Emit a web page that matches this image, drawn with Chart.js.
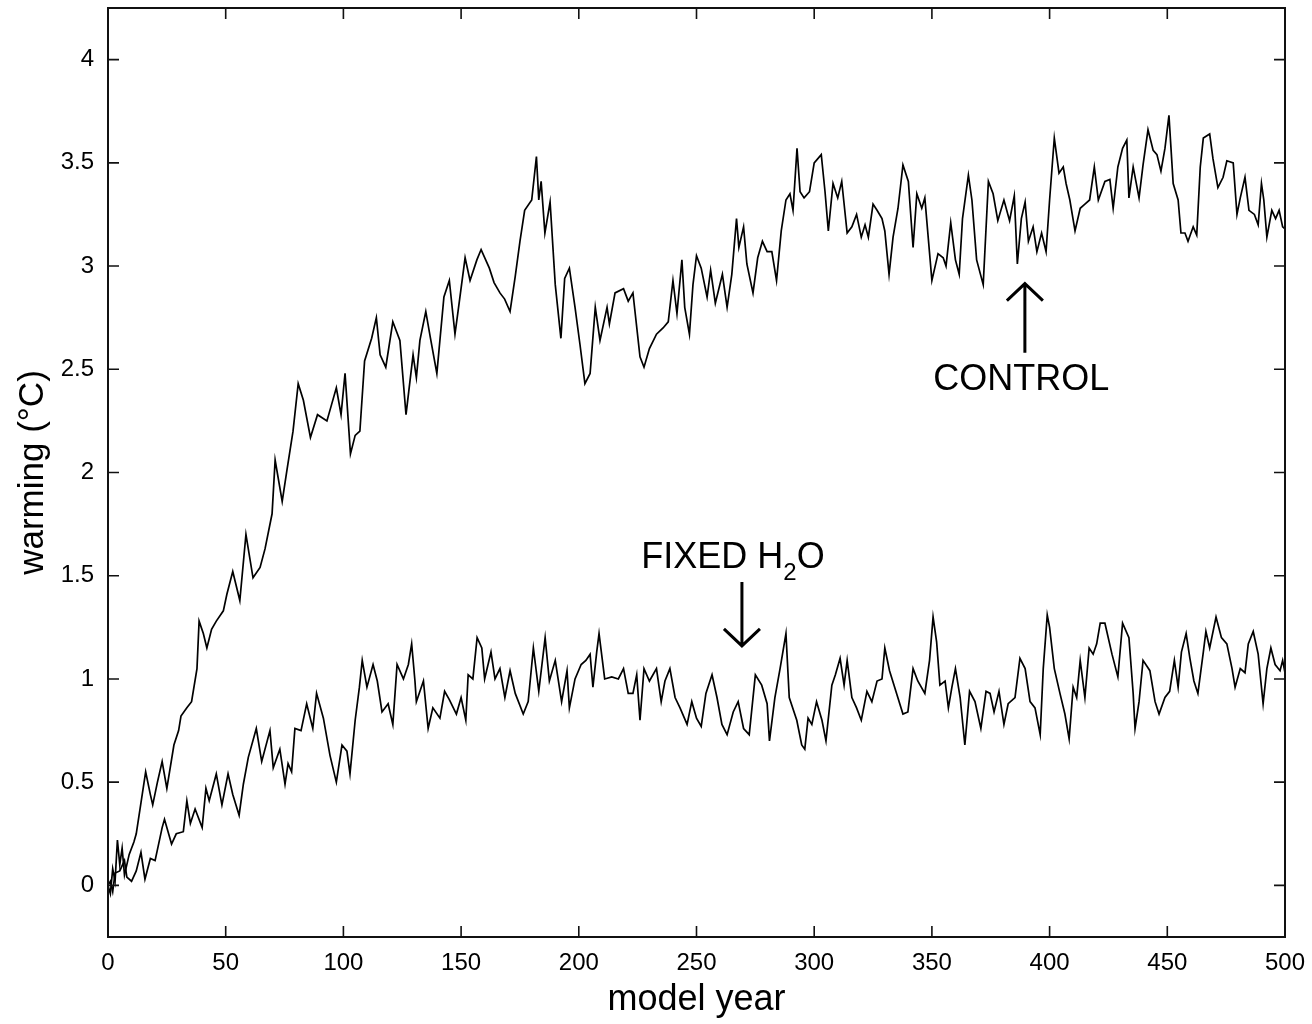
<!DOCTYPE html>
<html>
<head>
<meta charset="utf-8">
<script src="https://cdn.jsdelivr.net/npm/chart.js@4.4.1/dist/chart.umd.min.js"></script>
<style>
  html, body { margin: 0; padding: 0; background: #fff; }
  #wrap { width: 1312px; height: 1024px; }
</style>
</head>
<body>
<div id="wrap"><canvas id="chart" width="1312" height="1024"></canvas></div>
<script>
// values (model year, warming in deg C)
const controlYears = [0,1,2,3,4,5,6,7,9,11,12,14,16,18,19,21,23,25,28,30,31,33.5,35.5,37.8,38.7,40.5,42,44,46,49,50.5,53,56,58.6,61.6,64.6,66.7,69.7,71,74,76,78.6,80.8,83,86,89,93,95,97,99,100.7,103,105,107,109,112,114,115.6,118,121,124,126.6,129.6,131,132.5,135,137,139.7,142.7,145,147.4,148.7,151.7,153.8,156.7,158.5,162,164,166.5,168.5,170.8,173,175,177,180,182,183,184,185.6,187.8,190,192.4,194,196,198.4,200.5,202.6,204.8,207,209,212,213,215.4,219,221,223,226,227.7,230,233,235.8,238,240,241.7,243.8,245,247,248.5,250,252,254.5,256,258,261,263,265,267,268,270,271.4,274,276,278,280,282,284,286,288,289.7,291,292.7,294,295.7,298,300,303,304.6,306,308,310,311.7,314,316,318,320,321.6,323,325,326.7,328.8,330,331.8,333.5,335.6,337.7,340,342,343.6,345.7,347,350,352.6,354.8,356,358,360,361.6,363,365.5,367,369,371.8,374,376,378,380.6,383,385,386.3,388,389.6,391,393,394.6,396.6,398.5,400,402,404,405.8,407,408.6,410.8,413,415,417,419,420.7,423.5,425.6,427,429,431,432.8,433.7,435.5,438,439.7,441.8,444,445.6,447.3,449,450.7,452.5,454.6,455.8,457.5,458.8,461,462.5,464,465.3,468,469.4,471.5,473.7,475.3,478,479.6,481,483,484.7,487,488.6,490,491,492.3,494.4,496,497.5,499,500];
const controlWarming = [0,-0.04,0.08,0.02,0.22,0.10,0.18,0.05,0.15,0.21,0.25,0.40,0.55,0.44,0.39,0.50,0.60,0.47,0.68,0.75,0.82,0.86,0.89,1.05,1.28,1.22,1.15,1.24,1.28,1.33,1.41,1.52,1.38,1.70,1.49,1.54,1.63,1.80,2.06,1.86,2.01,2.20,2.43,2.35,2.17,2.28,2.25,2.33,2.41,2.28,2.48,2.09,2.18,2.20,2.54,2.65,2.75,2.57,2.51,2.73,2.64,2.28,2.57,2.46,2.64,2.78,2.65,2.48,2.85,2.93,2.67,2.78,3.04,2.93,3.03,3.08,2.99,2.92,2.87,2.84,2.78,2.95,3.12,3.27,3.32,3.53,3.32,3.41,3.16,3.31,2.91,2.65,2.94,2.99,2.80,2.62,2.43,2.48,2.80,2.64,2.80,2.72,2.87,2.89,2.83,2.87,2.56,2.51,2.60,2.67,2.70,2.73,2.93,2.77,3.03,2.80,2.67,2.91,3.05,2.99,2.85,2.98,2.82,2.96,2.80,2.96,3.23,3.09,3.19,3.01,2.87,3.04,3.12,3.07,3.07,2.93,3.17,3.32,3.35,3.27,3.57,3.36,3.33,3.36,3.50,3.54,3.36,3.17,3.40,3.33,3.41,3.16,3.19,3.25,3.14,3.20,3.14,3.30,3.27,3.23,3.17,2.96,3.14,3.28,3.49,3.41,3.09,3.35,3.28,3.33,2.93,3.06,3.04,3.00,3.21,3.03,2.96,3.23,3.44,3.32,3.03,2.91,3.41,3.35,3.22,3.32,3.22,3.34,3.01,3.23,3.31,3.12,3.19,3.07,3.16,3.07,3.32,3.62,3.45,3.48,3.40,3.32,3.17,3.28,3.30,3.32,3.48,3.32,3.41,3.42,3.28,3.48,3.57,3.61,3.33,3.48,3.33,3.49,3.66,3.56,3.54,3.46,3.57,3.73,3.40,3.32,3.16,3.16,3.12,3.19,3.15,3.48,3.62,3.64,3.52,3.38,3.43,3.51,3.50,3.25,3.33,3.43,3.27,3.25,3.20,3.40,3.32,3.14,3.27,3.23,3.27,3.19,3.18];

const fixedYears = [0,1,2,3,5,7,8,10,12,14,15.7,18,20,23,24,27,29,32,33.5,35,37,40,41.6,43,46,48.4,51,53,55.7,57.5,59.6,63,65.3,68.8,70.2,73,75.2,76.5,78,79.4,82,84.4,87,88.6,91.5,94.3,97,99.4,101.5,102.8,105,106.8,108,110,112.6,114.4,116.4,119,121,122.8,125.5,127.6,129,130.4,131,134,136,138,141,143,145,148,150,152,153,155,156.8,158.8,160,162.7,164.4,166.5,168.6,170.8,173,176.4,178.5,180.7,183,185.7,187.5,190,192.7,195,196,198.4,201,203,204.8,206,207.6,208.6,211,214,216.8,219,221,223,224.6,226,227.7,230,233,235,236.6,238.7,240.9,243,246,248,250,252,254,256.6,258.7,260.8,263,265.6,267.7,270,272.4,275,277.7,280,281,283.3,285.5,288,289.4,292.6,294.7,296,297.4,299,301,303.3,305,307.5,309,311,312.7,314,316,318,320,322.4,324.5,326.7,328.8,330,332,335,337.7,339.8,342,344,347,349,350.5,352,353.4,355.6,357,358.5,360,362,364,366,368.3,370.8,373,374.7,376.4,378.5,380.6,382.4,385.3,387.4,389.6,391.7,393.8,396,397.3,399,400,402,404.4,406.5,408.3,410,411.5,413,415,416.8,418.5,420,421.5,423.5,426.5,429,431,433.7,435.5,436.3,438,439.7,442.6,444.8,446.5,449,451,453,454.6,456,458,459.6,461.3,463,465.3,466.4,468,470.7,473,475.3,477.5,478.8,481,483,484.4,486.5,488.6,490.7,492.3,494,495.8,497.9,499,500];
const fixedWarming = [0,0.02,-0.03,0.06,0.07,0.12,0.04,0.02,0.07,0.16,0.03,0.13,0.12,0.28,0.32,0.20,0.25,0.26,0.41,0.30,0.37,0.28,0.47,0.41,0.54,0.39,0.54,0.44,0.34,0.49,0.62,0.76,0.60,0.75,0.57,0.66,0.49,0.59,0.55,0.76,0.75,0.88,0.76,0.93,0.81,0.63,0.50,0.68,0.65,0.54,0.80,0.96,1.09,0.96,1.07,0.99,0.84,0.88,0.78,1.07,1.00,1.07,1.17,0.99,0.89,0.99,0.76,0.86,0.81,0.94,0.90,0.83,0.91,0.80,1.02,1.00,1.20,1.15,1.00,1.13,1.00,1.05,0.91,1.04,0.93,0.83,0.89,1.15,0.94,1.20,0.99,1.09,0.89,1.04,0.86,1.00,1.07,1.09,1.12,0.96,1.13,1.22,1.00,1.01,1.00,1.05,0.93,0.93,1.02,0.80,1.05,0.99,1.05,0.89,0.99,1.05,0.91,0.86,0.78,0.89,0.81,0.77,0.93,1.02,0.91,0.78,0.73,0.84,0.89,0.76,0.73,1.02,0.97,0.88,0.70,0.91,1.05,1.22,0.91,0.80,0.68,0.66,0.81,0.78,0.89,0.80,0.70,0.97,1.02,1.10,0.97,1.09,0.91,0.86,0.80,0.94,0.89,0.99,1.00,1.15,1.04,0.93,0.83,0.84,1.05,0.99,0.93,1.09,1.30,1.18,0.97,0.99,0.86,0.96,1.05,0.91,0.68,0.94,0.89,0.76,0.94,0.93,0.84,0.94,0.78,0.88,0.91,1.10,1.05,0.89,0.86,0.73,1.05,1.31,1.25,1.05,0.93,0.83,0.71,0.96,0.91,1.09,0.91,1.15,1.12,1.17,1.27,1.27,1.12,1.01,1.27,1.20,0.93,0.76,0.89,1.09,1.04,0.89,0.83,0.91,0.94,1.09,0.96,1.13,1.22,1.10,0.99,0.93,1.13,1.23,1.15,1.30,1.20,1.17,1.05,0.96,1.05,1.03,1.17,1.23,1.12,0.88,1.05,1.15,1.07,1.04,1.09,1.03];

const xTicks = [0, 50, 100, 150, 200, 250, 300, 350, 400, 450, 500];
const yTicks = [0, 0.5, 1, 1.5, 2, 2.5, 3, 3.5, 4];
const yTickLabels = ['0', '0.5', '1', '1.5', '2', '2.5', '3', '3.5', '4'];

Chart.defaults.font.family = '"Liberation Sans", Arial, Helvetica, sans-serif';
Chart.defaults.color = '#000';

function toPoints(xs, ys) {
  return xs.map((x, i) => ({ x: x, y: ys[i] }));
}

// box, inward ticks on all four sides, and the two labels with arrows
const frameAndNotes = {
  id: 'frameAndNotes',
  afterDatasetsDraw(chart) {
    const ctx = chart.ctx;
    const a = chart.chartArea;
    const xs = chart.scales.x;
    const ys = chart.scales.y;
    ctx.save();
    ctx.strokeStyle = '#111';
    ctx.lineWidth = 2;
    ctx.strokeRect(a.left, a.top, a.right - a.left, a.bottom - a.top);

    ctx.lineWidth = 1.6;
    ctx.beginPath();
    xTicks.forEach(v => {
      const px = xs.getPixelForValue(v);
      ctx.moveTo(px, a.bottom); ctx.lineTo(px, a.bottom - 11);
      ctx.moveTo(px, a.top); ctx.lineTo(px, a.top + 11);
    });
    yTicks.forEach(v => {
      const py = ys.getPixelForValue(v);
      ctx.moveTo(a.left, py); ctx.lineTo(a.left + 11, py);
      ctx.moveTo(a.right, py); ctx.lineTo(a.right - 11, py);
    });
    ctx.stroke();

    ctx.fillStyle = '#000';
    ctx.textBaseline = 'middle';
    const big = '36px "Liberation Sans", Arial, sans-serif';
    const small = '24px "Liberation Sans", Arial, sans-serif';

    // CONTROL
    ctx.font = big;
    ctx.textAlign = 'center';
    ctx.fillText('CONTROL', xs.getPixelForValue(388), ys.getPixelForValue(2.45));
    drawArrow(ctx, xs.getPixelForValue(389.5), ys.getPixelForValue(2.58), ys.getPixelForValue(2.915));

    // FIXED H2O
    const cx = xs.getPixelForValue(265.5);
    const cy = ys.getPixelForValue(1.585);
    const w1 = ctx.measureText('FIXED H').width;
    const w3 = ctx.measureText('O').width;
    ctx.font = small;
    const w2 = ctx.measureText('2').width;
    const left = cx - (w1 + w2 + w3) / 2;
    ctx.textAlign = 'left';
    ctx.font = big;
    ctx.fillText('FIXED H', left, cy);
    ctx.font = small;
    ctx.fillText('2', left + w1, cy + 15);
    ctx.font = big;
    ctx.fillText('O', left + w1 + w2, cy);
    drawArrow(ctx, xs.getPixelForValue(269.3), ys.getPixelForValue(1.47), ys.getPixelForValue(1.16));
    ctx.restore();
  }
};

function drawArrow(ctx, x, yFrom, yTo) {
  const dir = yTo < yFrom ? 1 : -1;
  ctx.lineWidth = 3;
  ctx.strokeStyle = '#000';
  ctx.beginPath();
  ctx.moveTo(x, yFrom); ctx.lineTo(x, yTo);
  ctx.moveTo(x - 18, yTo + dir * 17); ctx.lineTo(x, yTo); ctx.lineTo(x + 18, yTo + dir * 17);
  ctx.stroke();
}

new Chart(document.getElementById('chart'), {
  type: 'line',
  data: {
    datasets: [
      {
        label: 'CONTROL',
        data: toPoints(controlYears, controlWarming),
        borderColor: '#000',
        borderWidth: 1.7,
        pointRadius: 0,
        tension: 0
      },
      {
        label: 'FIXED H2O',
        data: toPoints(fixedYears, fixedWarming),
        borderColor: '#000',
        borderWidth: 1.7,
        pointRadius: 0,
        tension: 0
      }
    ]
  },
  options: {
    responsive: false,
    devicePixelRatio: 1,
    animation: false,
    layout: { padding: { top: 8, right: 27, left: 0, bottom: 0 } },
    plugins: { legend: { display: false }, tooltip: { enabled: false } },
    scales: {
      x: {
        type: 'linear',
        min: 0,
        max: 500,
        afterBuildTicks: s => { s.ticks = xTicks.map(v => ({ value: v })); },
        afterFit: s => { s.height = 87; s.paddingLeft = 0; s.paddingRight = 0; },
        ticks: { font: { size: 24 }, color: '#000', padding: 12, maxRotation: 0, autoSkip: false },
        grid: { display: false, drawTicks: false },
        border: { display: false },
        title: { display: true, text: 'model year', font: { size: 36 }, color: '#000', padding: { top: 0, bottom: 2 } }
      },
      y: {
        type: 'linear',
        min: -0.25,
        max: 4.25,
        afterBuildTicks: s => { s.ticks = yTicks.map(v => ({ value: v })); },
        afterFit: s => { s.width = 108; s.paddingTop = 0; s.paddingBottom = 0; },
        ticks: {
          font: { size: 24 }, color: '#000', padding: 14, autoSkip: false,
          callback: v => yTickLabels[yTicks.indexOf(v)]
        },
        grid: { display: false, drawTicks: false },
        border: { display: false },
        title: { display: true, text: 'warming (°C)', font: { size: 35 }, color: '#000', padding: { top: 12, bottom: 0 } }
      }
    }
  },
  plugins: [frameAndNotes]
});
</script>
</body>
</html>
